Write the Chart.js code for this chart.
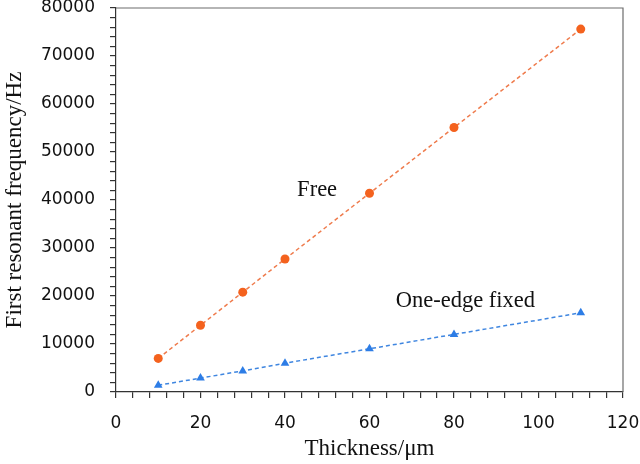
<!DOCTYPE html>
<html lang="en">
<head>
  <meta charset="UTF-8">
  <title>First resonant frequency vs thickness</title>
  <script src="https://cdn.jsdelivr.net/npm/chart.js"></script>
  <style>
    html, body { margin: 0; padding: 0; background: #fff; }
    #wrap { width: 640px; height: 464px; }
  </style>
</head>
<body>
  <div id="wrap"><canvas id="freqChart" width="640" height="464"></canvas></div>

  <script>
    // values
    const thickness = [10, 20, 30, 40, 60, 80, 110];
    const freeFreq = [7000, 13900, 20800, 27700, 41400, 55100, 75600];
    const fixedFreq = [1400, 2900, 4400, 6000, 9000, 12000, 16500];

    const xTitle = 'Thickness/\u03bcm';
    const yTitle = 'First resonant frequency/Hz';

    const serif = '"Liberation Serif", "Times New Roman", serif';
    const sans = '"DejaVu Sans", sans-serif';

    const toPoints = (ys) => thickness.map((x, i) => ({ x: x, y: ys[i] }));

    // frame on top/right + inline series labels
    const framePlugin = {
      id: 'frame',
      afterDraw(chart) {
        const { ctx, chartArea: a, scales } = chart;
        ctx.save();
        ctx.strokeStyle = '#6d6d6d';
        ctx.lineWidth = 1.2;
        ctx.beginPath();
        ctx.moveTo(a.left, a.top);
        ctx.lineTo(a.right, a.top);
        ctx.lineTo(a.right, a.bottom);
        ctx.stroke();

        ctx.fillStyle = '#111';
        ctx.font = '22.5px ' + serif;
        ctx.textAlign = 'center';
        ctx.textBaseline = 'alphabetic';
        ctx.fillText('Free', scales.x.getPixelForValue(47.6), scales.y.getPixelForValue(40800));
        ctx.fillText('One-edge fixed', scales.x.getPixelForValue(82.7), scales.y.getPixelForValue(17800));
        ctx.restore();
      }
    };

    const ctx = document.getElementById('freqChart').getContext('2d');
    new Chart(ctx, {
      type: 'scatter',
      data: {
        datasets: [{
          label: 'Free',
          data: toPoints(freeFreq),
          showLine: true,
          borderColor: '#ef7b4c',
          borderWidth: 1.5,
          borderDash: [4, 3],
          pointStyle: 'circle',
          pointRadius: 4.5,
          pointBackgroundColor: '#f4621e',
          pointBorderColor: '#f4621e',
          pointBorderWidth: 0
        }, {
          label: 'One-edge fixed',
          data: toPoints(fixedFreq),
          showLine: true,
          borderColor: '#3f86e0',
          borderWidth: 1.5,
          borderDash: [4, 3],
          pointStyle: 'triangle',
          pointRadius: 5,
          pointBackgroundColor: '#2d7de6',
          pointBorderColor: '#2d7de6',
          pointBorderWidth: 0
        }]
      },
      options: {
        responsive: false,
        animation: false,
        layout: { padding: 0 },
        plugins: { legend: { display: false }, tooltip: { enabled: false } },
        scales: {
          x: {
            type: 'linear',
            min: 0, max: 120,
            border: { color: '#333', width: 1.2 },
            grid: { drawOnChartArea: false, tickLength: 6, color: '#333', lineWidth: 1.2 },
            ticks: {
              stepSize: 4, autoSkip: false, maxRotation: 0, padding: 15,
              color: '#111',
              font: { family: sans, size: 17 },
              callback: (v) => (v % 20 === 0 ? v : '')
            },
            title: {
              display: true, text: xTitle, color: '#111', padding: { top: 0, bottom: 1 },
              font: { family: serif, size: 23 }
            },
            afterFit(scale) {
              scale.height = 72;
              scale.paddingLeft = 0;
              scale.paddingRight = 17;
            }
          },
          y: {
            type: 'linear',
            min: 0, max: 80000,
            border: { color: '#333', width: 1.2 },
            grid: { drawOnChartArea: false, tickLength: 6, color: '#333', lineWidth: 1.2 },
            ticks: {
              stepSize: 2000, autoSkip: false, padding: 15,
              color: '#111',
              font: { family: sans, size: 17 },
              callback: (v) => (v % 10000 === 0 ? v : '')
            },
            title: {
              display: true, text: yTitle, color: '#111', padding: { top: 1, bottom: 0 },
              font: { family: serif, size: 23 }
            },
            afterFit(scale) {
              scale.width = 116;
              scale.paddingTop = 8;
              scale.paddingBottom = 0;
            }
          }
        }
      },
      plugins: [framePlugin]
    });
  </script>
</body>
</html>
